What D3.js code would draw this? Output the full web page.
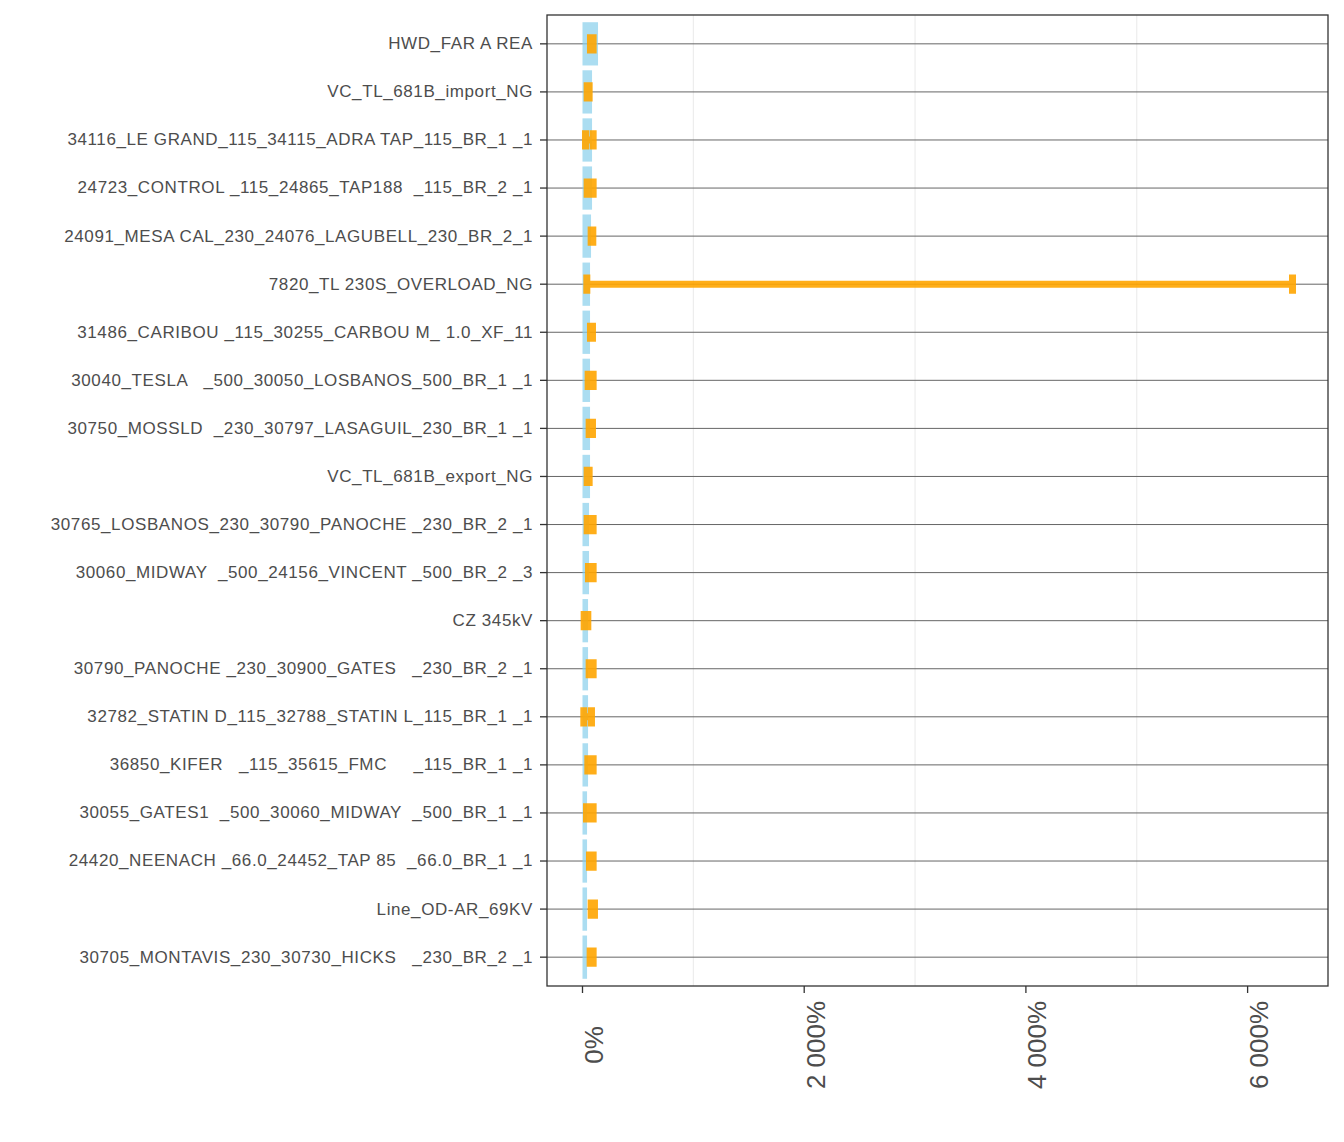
<!DOCTYPE html>
<html>
<head>
<meta charset="utf-8">
<script src="https://cdn.jsdelivr.net/npm/d3@7"></script>
<style>
  body { margin: 0; background: #fff; }
  text { font-family: "Liberation Sans", Arial, sans-serif; }
</style>
</head>
<body>
<div id="chart"></div>
<script>
// constraint names, top to bottom
var constraints = [
  "HWD_FAR A REA",
  "VC_TL_681B_import_NG",
  "34116_LE GRAND_115_34115_ADRA TAP_115_BR_1 _1",
  "24723_CONTROL _115_24865_TAP188  _115_BR_2 _1",
  "24091_MESA CAL_230_24076_LAGUBELL_230_BR_2_1",
  "7820_TL 230S_OVERLOAD_NG",
  "31486_CARIBOU _115_30255_CARBOU M_ 1.0_XF_11",
  "30040_TESLA   _500_30050_LOSBANOS_500_BR_1 _1",
  "30750_MOSSLD  _230_30797_LASAGUIL_230_BR_1 _1",
  "VC_TL_681B_export_NG",
  "30765_LOSBANOS_230_30790_PANOCHE _230_BR_2 _1",
  "30060_MIDWAY  _500_24156_VINCENT _500_BR_2 _3",
  "CZ 345kV",
  "30790_PANOCHE _230_30900_GATES   _230_BR_2 _1",
  "32782_STATIN D_115_32788_STATIN L_115_BR_1 _1",
  "36850_KIFER   _115_35615_FMC     _115_BR_1 _1",
  "30055_GATES1  _500_30060_MIDWAY  _500_BR_1 _1",
  "24420_NEENACH _66.0_24452_TAP 85  _66.0_BR_1 _1",
  "Line_OD-AR_69KV",
  "30705_MONTAVIS_230_30730_HICKS   _230_BR_2 _1"
];

// bar value (%)
var barValue = [140, 86, 86, 86, 77, 68, 68, 68, 68, 68,
                59, 59, 50, 50, 50, 50, 41, 41, 41, 41];

// error range low / high (%)
var errLow  = [72, 42, 27, 42, 78, 39, 72, 51, 60, 42,
               42, 54, 15, 60, 12, 48, 36, 63, 78, 69];
var errHigh = [96, 60, 96, 96, 93, 6405, 90, 96, 90, 60,
               96, 96, 48, 96, 81, 96, 96, 96, 108, 96];

var xTicks = [0, 2000, 4000, 6000];
var xMinor = [1000, 3000, 5000];

var width = 1344, height = 1142;
var margin = {top: 15, right: 16, bottom: 156, left: 547};
var pw = width - margin.left - margin.right,
    ph = height - margin.top - margin.bottom;

var svg = d3.select("#chart").append("svg")
    .attr("width", width)
    .attr("height", height);

var g = svg.append("g").attr("transform", "translate(" + margin.left + "," + margin.top + ")");

var maxV = d3.max(errHigh.concat(barValue)),
    minV = Math.min(0, d3.min(errLow));
var pad = (maxV - minV) * 0.05;

var x = d3.scaleLinear().domain([minV - pad, maxV + pad]).range([0, pw]);
var y = d3.scalePoint().domain(constraints).range([0, ph]).padding(0.6);
var step = y.step();

// minor vertical grid
g.selectAll(".minor").data(xMinor).enter().append("line")
    .attr("x1", d => x(d)).attr("x2", d => x(d))
    .attr("y1", 0).attr("y2", ph)
    .attr("stroke", "#ebebeb").attr("stroke-width", 1.1);

// horizontal lines at each category
g.selectAll(".hline").data(constraints).enter().append("line")
    .attr("x1", 0).attr("x2", pw)
    .attr("y1", d => y(d)).attr("y2", d => y(d))
    .attr("stroke", "#666666").attr("stroke-width", 1);

// bars
g.selectAll(".bar").data(constraints).enter().append("rect")
    .attr("x", x(0))
    .attr("y", d => y(d) - step * 0.45)
    .attr("width", (d, i) => x(barValue[i]) - x(0))
    .attr("height", step * 0.9)
    .attr("fill", "#87ceeb").attr("fill-opacity", 0.7);

// error bars
var lw = 7, capH = step * 0.4;
var eb = g.selectAll(".err").data(constraints).enter().append("g")
    .attr("stroke", "#ffa500").attr("stroke-opacity", 0.9).attr("stroke-width", lw)
    .attr("fill", "none");

eb.append("path")
    .attr("d", function(d, i) {
      var yy = y(d), a = x(errLow[i]), b = x(errHigh[i]), h = capH / 2;
      return "M" + a + "," + (yy - h) + "V" + (yy + h)
           + "M" + a + "," + yy + "H" + b
           + "M" + b + "," + (yy - h) + "V" + (yy + h);
    });

// panel border
g.append("rect")
    .attr("x", 0).attr("y", 0).attr("width", pw).attr("height", ph)
    .attr("fill", "none").attr("stroke", "#333333").attr("stroke-width", 1.3);

// y axis ticks and labels
var yAx = g.append("g");
yAx.selectAll("line").data(constraints).enter().append("line")
    .attr("x1", -7).attr("x2", 0)
    .attr("y1", d => y(d)).attr("y2", d => y(d))
    .attr("stroke", "#333333").attr("stroke-width", 1.3);
yAx.selectAll("text").data(constraints).enter().append("text")
    .attr("x", -14).attr("y", d => y(d))
    .attr("dy", "0.32em")
    .attr("text-anchor", "end")
    .attr("fill", "#4d4d4d")
    .attr("font-size", 17)
    .attr("letter-spacing", "0.6px")
    .style("white-space", "pre")
    .text(d => d);

// x axis ticks and labels
var fmt = function(v) { return d3.format(",")(v).replace(/,/g, " ") + "%"; };
var xAx = g.append("g").attr("transform", "translate(0," + ph + ")");
xAx.selectAll("line").data(xTicks).enter().append("line")
    .attr("x1", d => x(d)).attr("x2", d => x(d))
    .attr("y1", 0).attr("y2", 7)
    .attr("stroke", "#333333").attr("stroke-width", 1.3);
xAx.selectAll("text").data(xTicks).enter().append("text")
    .attr("transform", d => "translate(" + (x(d) + 20.5) + ",59) rotate(-90)")
    .attr("text-anchor", "middle")
    .attr("fill", "#4d4d4d")
    .attr("font-size", 26)
    .style("white-space", "pre")
    .text(d => fmt(d));
</script>
</body>
</html>
